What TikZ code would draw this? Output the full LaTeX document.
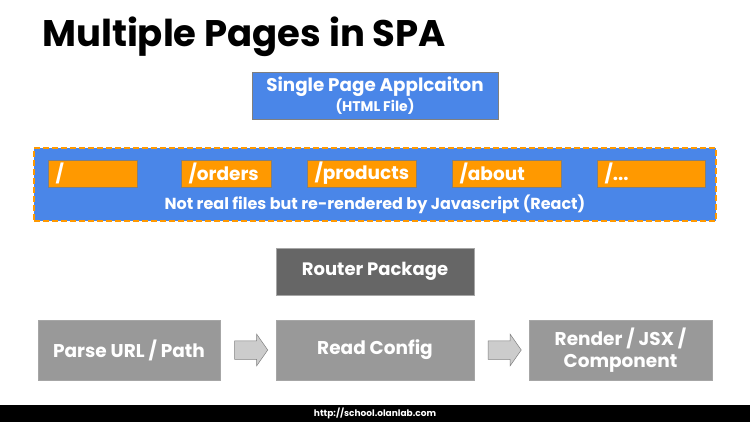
\documentclass[tikz,border=0pt]{standalone}
\usepackage{fontspec}
\setmainfont{Poppins}
\usetikzlibrary{shapes.arrows,calc}
\definecolor{spablue}{HTML}{4A86E8}
\definecolor{routeorange}{HTML}{FF9900}
\definecolor{darkbox}{HTML}{666666}
\definecolor{midbox}{HTML}{999999}
\definecolor{arrowfill}{HTML}{CCCCCC}
\definecolor{edgegray}{HTML}{7F7F7F}
\begin{document}
\begin{tikzpicture}[x=1pt,y=-1pt,
  boxtext/.style={text=white,font=\fontsize{18.5}{22}\selectfont\bfseries,align=center,inner sep=0pt},
  bluebox/.style={boxtext,fill=spablue,draw=edgegray,line width=0.6pt},
  routebox/.style={boxtext,font=\fontsize{18.5}{22}\selectfont\bfseries,fill=routeorange,draw=edgegray,line width=0.4pt,minimum height=27pt,align=left,inner xsep=7.5pt},
  darkrect/.style={boxtext,fill=darkbox,draw=gray!70,line width=0.5pt},
  midrect/.style={boxtext,fill=midbox,draw=gray!70,line width=0.5pt},
  blockarrow/.style={single arrow,fill=arrowfill,draw=edgegray,line width=0.5pt,minimum height=33pt,inner xsep=0pt,inner ysep=9pt,single arrow head extend=6.5pt,single arrow tip angle=110}
]
\useasboundingbox (0,0) rectangle (750,422);
\fill[white] (0,0) rectangle (750,422);

\node[anchor=base west,inner sep=0pt,font=\fontsize{37}{40}\selectfont\bfseries] (title) at (42,47) {Multiple Pages in SPA};

\node[bluebox,font=\fontsize{18.3}{21}\selectfont\bfseries,minimum width=246pt,minimum height=47pt] (spa) at (375,95.5)
  {Single Page Applcaiton\\[-1pt]{\fontsize{14}{15}\selectfont (HTML File)}};

\node[fill=spablue,draw=routeorange,dashed,dash pattern=on 6pt off 3pt,line width=1.5pt,minimum width=682pt,minimum height=73pt,inner sep=0pt] (container) at (375,184.5) {};

\node[routebox,text width=74pt] (r1) at (92.5,173.5) {/};
\node[routebox,text width=75pt] (r2) at (226,173.5) {/orders};
\node[routebox,text width=94pt] (r3) at (361.5,173.5) {/products};
\node[routebox,text width=94pt] (r4) at (506.5,173.5) {/about};
\node[routebox,text width=93pt] (r5) at (651,173.5) {/...};

\node[boxtext,font=\fontsize{16}{18}\selectfont\bfseries] (note) at (375,204) {Not real files but re-rendered by Javascript (React)};

\node[darkrect,font=\fontsize{18}{21}\selectfont\bfseries,minimum width=198pt,minimum height=47pt] (router) at (375,271.5) {Router Package};

\node[midrect,minimum width=182pt,minimum height=60pt] (parse) at (129,350) {Parse URL / Path};
\node[midrect,minimum width=198pt,minimum height=60pt] (read) at (375,350) {Read Config};
\node[midrect,minimum width=183pt,minimum height=60pt,font=\fontsize{18.5}{22}\selectfont\bfseries] (render) at (620.5,350) {Render / JSX /\\Component};

\node[blockarrow] (a1) at ($(parse.east)!0.5!(read.west)$) {};
\node[blockarrow] (a2) at ($(read.east)!0.5!(render.west)$) {};

\fill[black] (0,405) rectangle (750,422);
\node[text=white,font=\fontsize{9}{10}\selectfont\bfseries,inner sep=0pt] (footer) at (375,413.5) {http://school.olanlab.com};
\end{tikzpicture}
\end{document}
